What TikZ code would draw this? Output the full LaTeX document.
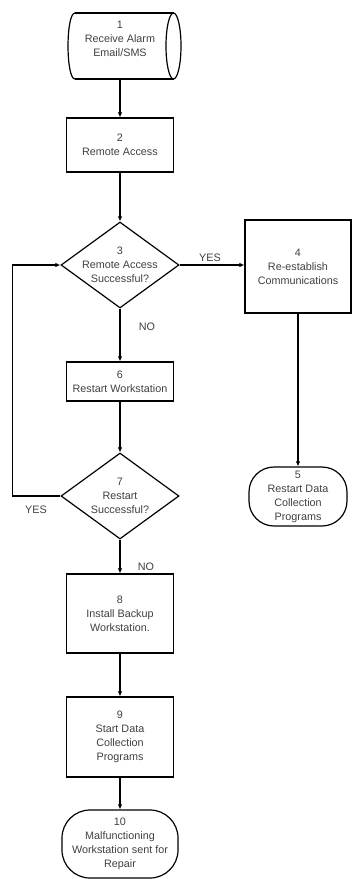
\documentclass[tikz,border=0pt]{standalone}
\usepackage{fontspec}
\setmainfont{Liberation Sans}
\usetikzlibrary{shapes.geometric,arrows.meta,calc}
\begin{document}
\begin{tikzpicture}[x=1pt,y=-1pt,
  line/.style={line width=1.2pt, black},
  arr/.style={line, -{Latex[length=5pt,width=4.5pt]}},
  txt/.style={font=\fontsize{10.8}{14}\selectfont, text=black!75, align=center, inner sep=0pt},
  procbox/.style={draw, line width=1.2pt, rectangle, minimum width=107pt, txt},
  termbox/.style={draw, line width=1.2pt, rectangle, rounded corners=26pt, txt},
  decbox/.style={draw, line width=1.2pt, diamond, minimum width=118pt, minimum height=86pt, inner sep=0pt},
  lbl/.style={font=\fontsize{10.8}{13}\selectfont, text=black!75, inner sep=0pt}]
\useasboundingbox (0,0) rectangle (352,879);

% 1: alarm input, drawn as a horizontal cylinder
\node[minimum width=113pt, minimum height=66pt, inner sep=0pt] (n1) at (124.5,46) {};
\draw[line] (75,13) -- (173.5,13) (75,79) -- (173.5,79);
\draw[line] (75,13) .. controls (65.7,13) and (65.7,79) .. (75,79);
\draw[line] (173.5,46) ellipse [x radius=7.5, y radius=33];
\node[txt] (t1) at (120,39) {1\\Receive Alarm\\Email/SMS};

% main column
\node[procbox, minimum height=54pt] (n2) at (120,145) {2\\Remote Access};
\node[decbox] (d3) at (120,265) {};
\node[txt] (t3) at (d3) {3\\Remote Access\\Successful?};
\node[procbox, minimum height=39pt] (n6) at (120,381.5) {6\\Restart Workstation};
\node[decbox] (d7) at (120,496) {};
\node[txt] (t7) at (d7) {7\\Restart\\Successful?};
\node[procbox, minimum height=79pt] (n8) at (120,613.5) {8\\Install Backup\\Workstation.};
\node[procbox, minimum height=80pt] (n9) at (120,737) {9\\Start Data\\Collection\\Programs};
\node[termbox, minimum width=116pt, minimum height=68pt, rounded corners=28pt] (n10) at (120,844) {10\\Malfunctioning\\Workstation sent for\\Repair};

% right branch
\node[procbox, minimum width=106pt, minimum height=93pt] (n4) at (298,266.5) {4\\Re-establish\\Communications};
\node[termbox, minimum width=98pt, minimum height=59pt, rounded corners=25pt] (n5) at (298,496.5) {5\\Restart Data\\Collection\\Programs};

% connectors
\draw[arr] (n1.south -| n2.north) -- (n2.north);
\draw[arr] (n2.south) -- (d3.north);
\draw[arr] (d3.east) -- (d3.east -| n4.west);
\draw[arr] (n4.south) -- (n5.north);
\draw[arr] (d3.south) -- (n6.north);
\draw[arr] (n6.south) -- (d7.north);
\draw[arr] (d7.west) -- ++(-48,0) |- (d3.west);
\draw[arr] (d7.south) -- (n8.north);
\draw[arr] (n8.south) -- (n9.north);
\draw[arr] (n9.south) -- (n10.north);

% branch labels
\node[lbl] (yes1) at (210,258) {YES};
\node[lbl] (no1) at (147,327) {NO};
\node[lbl] (yes2) at (36,510) {YES};
\node[lbl] (no2) at (146,567) {NO};
\end{tikzpicture}
\end{document}
